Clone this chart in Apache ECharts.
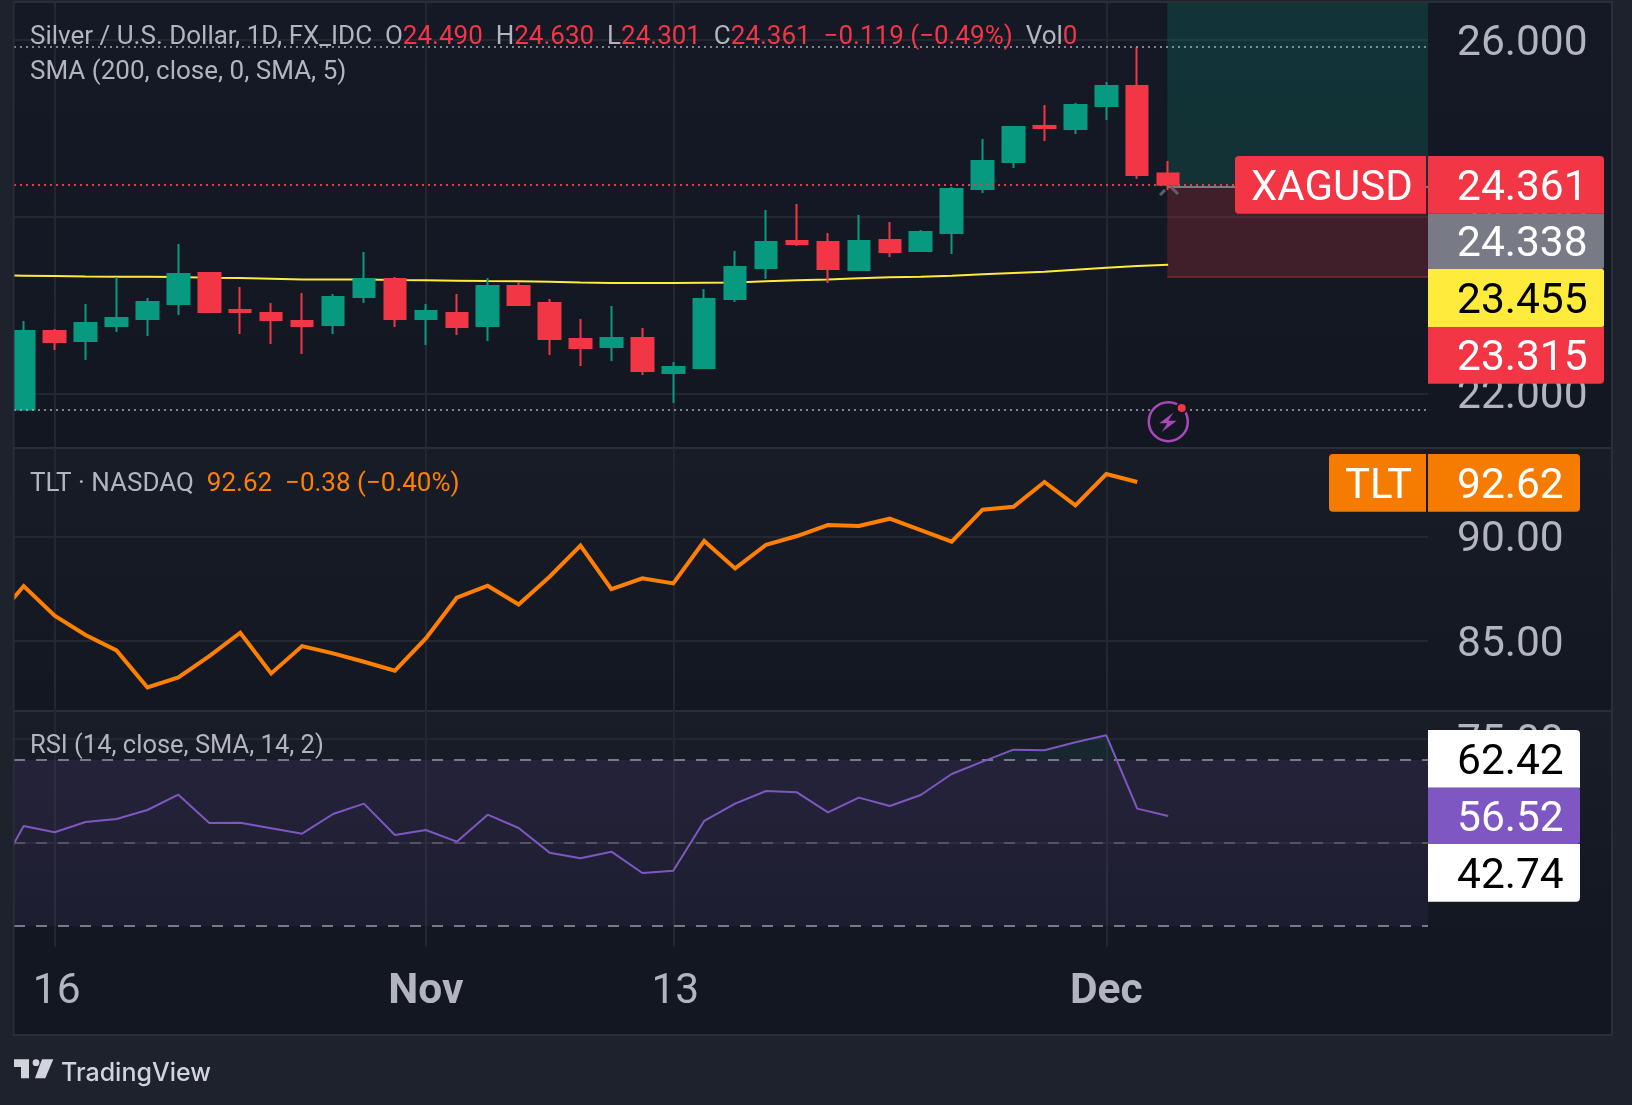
<!DOCTYPE html>
<html>
<head>
<meta charset="utf-8">
<title>XAGUSD with TLT and RSI</title>
<script src="https://cdn.jsdelivr.net/npm/echarts@6/dist/echarts.min.js"></script>
<style>
  html, body { margin: 0; padding: 0; background: #1e222d; }
  #chart { width: 1632px; height: 1105px; }
</style>
</head>
<body>
<div id="chart"></div>
<script>
// Daily XAGUSD candles, bar 0 is the first session visible at the left edge.
const opens  = [21.818,22.705,22.592,22.762,22.841,23.011,23.362,22.943,22.909,22.818,22.773,23.090,23.294,22.841,22.909,22.762,23.215,23.022,22.615,22.524,22.626,22.230,22.286,23.068,23.419,23.724,23.713,23.396,23.736,23.611,23.815,24.313,24.619,25.027,24.993,25.253,25.480,24.490];
const closes = [22.705,22.581,22.796,22.852,23.034,23.351,22.920,22.920,22.830,22.762,23.090,23.294,22.841,22.932,22.750,23.215,23.000,22.615,22.513,22.626,22.252,22.297,23.068,23.430,23.713,23.690,23.407,23.724,23.600,23.826,24.313,24.630,25.015,25.004,25.265,25.480,24.472,24.361];
const lows   = [21.818,22.490,22.377,22.694,22.649,22.886,22.920,22.671,22.558,22.445,22.671,23.022,22.750,22.547,22.660,22.592,23.000,22.433,22.309,22.365,22.207,21.890,22.286,23.034,23.294,23.668,23.249,23.396,23.543,23.611,23.577,24.268,24.551,24.857,24.936,25.095,24.427,24.301];
const highs  = [22.818,22.728,23.011,23.313,23.079,23.690,23.362,23.203,23.022,23.136,23.124,23.600,23.317,23.011,23.124,23.305,23.260,23.068,22.841,22.988,22.739,22.354,23.181,23.611,24.075,24.143,23.815,24.019,23.940,23.849,24.336,24.880,25.027,25.265,25.287,25.525,25.920,24.630];

// Overlays start one session earlier (bar -1), just off the left edge.
const sma200 = [23.336,23.332,23.328,23.324,23.321,23.321,23.317,23.309,23.305,23.298,23.290,23.290,23.290,23.283,23.279,23.275,23.271,23.268,23.264,23.256,23.249,23.249,23.249,23.253,23.256,23.268,23.279,23.290,23.302,23.313,23.321,23.332,23.347,23.362,23.377,23.400,23.422,23.441,23.455];
const tlt    = [85.879,87.636,86.214,85.288,84.553,82.780,83.259,84.281,85.399,83.450,84.760,84.409,84.010,83.578,85.128,87.077,87.652,86.757,88.083,89.569,87.492,88.003,87.764,89.792,88.482,89.617,90.032,90.559,90.511,90.863,90.319,89.760,91.294,91.438,92.620,91.502,93.000,92.620];
const rsi    = [40.8,54.096,52.570,55.060,55.783,57.952,61.647,54.819,54.900,53.534,52.249,56.988,59.478,51.928,53.133,50.321,56.827,53.614,47.671,46.305,47.912,42.771,43.333,55.301,59.478,62.530,62.209,57.390,60.924,58.916,61.566,66.627,69.598,72.490,72.329,74.257,75.944,58.273,56.52];

const priceTicks = [22, 24, 26];
const tltTicks = [85, 90];
const rsiTicks = [50, 75];
const rsiBands = [70, 50, 30];
const timeTicks = [1, 13, 21, 35];
const timeLabels = { 1: '16', 13: 'Nov', 21: '13', 35: 'Dec' };
const monthTicks = ['Nov', 'Dec'];

// Position tool: entry, stop and the last values flagged on the price scale.
const entryPrice = 24.338;
const stopPrice = 23.315;
const lastPrice = 24.361;
const smaLast = 23.455;
const tltLast = 92.62;
const tltChange = '−0.38 (−0.40%)';
const priceChange = '−0.119 (−0.49%)';
const rsiSmaLast = 62.42;
const rsiLast = 56.52;
const rsiLowFlag = 42.74;

// Panes share one horizontal scale; limits leave the first candle cut by the frame.
const xMin = -0.314, xMax = 45.4;
const plotLeft = 14, plotWidth = 1414;
const toolStart = 36.97;
const rsiPane = { top: 711, height: 236, min: 24.94, max: 81.8 };

const C = {
  outer: '#1e222d', pane: '#131722', border: '#2a2e39', grid: '#23272f',
  text: '#b2b5be', up: '#089981', down: '#f23645', orange: '#f57c00',
  line: '#ff8000', purple: '#7e57c2', yellow: '#ffeb3b', gray: '#787b86'
};
const FONT = 'Roboto, "Liberation Sans", sans-serif';
const AXIS_SIZE = 42.5;

const candleData = opens.map((o, i) => [i, o, closes[i], lows[i], highs[i]]);
const fromBarMinusOne = arr => arr.map((v, i) => [i - 1, v]);

function hLine(y, color, width, type, x0, x1) {
  return [
    { coord: [x0 === undefined ? xMin : x0, y], lineStyle: { color, width, type } },
    { coord: [x1 === undefined ? xMax : x1, y] }
  ];
}

function yAxis(gridIndex, min, max, ticks, digits) {
  return {
    type: 'value', gridIndex, position: 'right', min, max, scale: true,
    axisLine: { show: false }, axisTick: { show: false, customValues: ticks },
    splitLine: { show: true, lineStyle: { color: C.grid, width: 2 } },
    axisLabel: {
      customValues: ticks, color: C.text, fontFamily: FONT, fontSize: AXIS_SIZE,
      margin: 29, formatter: v => '{v|' + v.toFixed(digits) + '}',
      // Top padding sits the digits centred on their grid line
      rich: { v: { color: C.text, fontFamily: FONT, fontSize: AXIS_SIZE, padding: [8, 0, 0, 0] } }
    }
  };
}

function xAxis(gridIndex, showLabels) {
  return {
    type: 'value', gridIndex, min: xMin, max: xMax,
    axisLine: { show: false }, axisTick: { show: false, customValues: timeTicks },
    splitLine: { show: true, lineStyle: { color: C.grid, width: 2 } },
    axisLabel: showLabels ? {
      show: true, customValues: timeTicks, color: C.text, fontFamily: FONT,
      fontSize: AXIS_SIZE, margin: 24,
      formatter: v => {
        const t = timeLabels[v];
        return monthTicks.includes(t) ? '{b|' + t + '}' : '{n|' + t + '}';
      },
      rich: {
        b: { fontWeight: 'bold', fontSize: AXIS_SIZE, fontFamily: FONT, color: C.text },
        n: { fontSize: AXIS_SIZE, fontFamily: FONT, color: C.text, padding: [0, 0, 0, 4] }
      }
    } : { show: false }
  };
}

function flag(x0, x1, y0, y1, fill, r) {
  return { type: 'rect', z: 100, silent: true,
    shape: { x: x0, y: y0, width: x1 - x0, height: y1 - y0, r },
    style: { fill } };
}
function flagText(x, yc, text, fill, size) {
  return { type: 'text', z: 101, silent: true, x, y: yc,
    style: { text, fill, font: (size || AXIS_SIZE) + 'px ' + FONT, textVerticalAlign: 'middle', textAlign: 'left' } };
}
function paneBg(y0, y1, top, bottom) {
  return { type: 'rect', z: -5, silent: true,
    shape: { x: 14, y: y0, width: 1597, height: y1 - y0 },
    style: { fill: new echarts.graphic.LinearGradient(0, 0, 0, 1, [
      { offset: 0, color: top }, { offset: 1, color: bottom }]) } };
}
function separator(y) {
  return { type: 'rect', z: -4, silent: true,
    shape: { x: 13, y: y - 1, width: 1599, height: 2 }, style: { fill: C.border } };
}

const legendSize = 26;
function legend(x, y, text, rich, size) {
  return { type: 'text', z: 90, silent: true, x, y,
    style: { text, rich, fontFamily: FONT, fontSize: size || legendSize, fill: C.text, textVerticalAlign: 'middle' } };
}
const richPart = fill => ({ fontFamily: FONT, fontSize: legendSize, fill });

const ohlc = [['O', opens[37]], ['H', highs[37]], ['L', lows[37]], ['C', closes[37]]];
const priceLegend = '{n|Silver / U.S. Dollar, 1D, FX_IDC}' +
  ohlc.map(([k, v]) => '{n|  ' + k + '}{r|' + v.toFixed(3) + '}').join('') +
  '{r|  ' + priceChange + '}{n|  Vol}{r|0}';

const graphic = [
  { type: 'rect', z: -6, silent: true, shape: { x: 13, y: 2, width: 1599, height: 1033 },
    style: { fill: C.pane, stroke: C.border, lineWidth: 2 } },
  paneBg(3, 447, '#151925', '#131722'),
  paneBg(449, 710, '#181c27', '#131722'),
  paneBg(712, 947, '#191d28', '#131722'),
  separator(448), separator(711),

  // Marks that start off-screen are cut by the frame at the left edge
  { type: 'rect', z: 60, silent: true, shape: { x: 0, y: 0, width: 13, height: 1035 }, style: { fill: C.outer } },
  { type: 'rect', z: 61, silent: true, shape: { x: 13, y: 2, width: 1.5, height: 1033 }, style: { fill: C.border } },

  legend(30, 37.5, priceLegend, { n: richPart(C.text), r: richPart(C.down) }),
  legend(30, 72, 'SMA (200, close, 0, SMA, 5)'),
  legend(30, 484.5, '{n|TLT · NASDAQ}{o|  ' + tltLast.toFixed(2) + '  ' + tltChange + '}',
    { n: richPart(C.text), o: richPart(C.line) }),
  legend(30, 747, 'RSI (14, close, SMA, 14, 2)', undefined, 25.5),

  // Flags on the price scale
  flag(1235, 1426, 156, 213.7, C.down, [4, 0, 0, 4]),
  flag(1428, 1604, 156, 213.7, C.down, [0, 4, 0, 0]),
  flag(1428, 1604, 213.7, 269, C.gray, [0, 0, 2, 0]),
  flag(1428, 1604, 269, 327, '#ffeb3b', [0, 2, 2, 0]),
  flag(1428, 1604, 327, 383.7, C.down, [0, 0, 4, 0]),
  flagText(1251, 189.2, 'XAGUSD', '#ffffff', 42),
  flagText(1457, 189.2, lastPrice.toFixed(3), '#ffffff'),
  flagText(1457, 245.6, entryPrice.toFixed(3), '#ffffff'),
  flagText(1457, 302.3, smaLast.toFixed(3), '#000000'),
  flagText(1457, 359.7, stopPrice.toFixed(3), '#ffffff'),

  flag(1329, 1426, 454, 511.7, C.orange, [4, 0, 0, 4]),
  flag(1428, 1580, 454, 511.7, C.orange, [0, 4, 4, 0]),
  flagText(1345, 487.5, 'TLT', '#ffffff', 42),
  flagText(1457, 487.5, tltLast.toFixed(2), '#ffffff'),

  flag(1428, 1580, 730, 787.7, '#ffffff', [0, 4, 0, 0]),
  flag(1428, 1580, 787.7, 844, C.purple, [0, 2, 2, 0]),
  flag(1428, 1580, 844, 901.7, '#ffffff', [0, 0, 4, 0]),
  flagText(1457, 763.4, rsiSmaLast.toFixed(2), '#000000'),
  flagText(1457, 820.4, rsiLast.toFixed(2), '#ffffff'),
  flagText(1457, 877.4, rsiLowFlag.toFixed(2), '#000000'),

  // Chevrons under the last bar
  { type: 'polyline', z: 40, silent: true, shape: { points: [[1160, 195], [1165, 190]] },
    style: { stroke: '#5d606b', lineWidth: 3, fill: null } },
  { type: 'polyline', z: 40, silent: true, shape: { points: [[1171, 187], [1178, 194]] },
    style: { stroke: '#5d606b', lineWidth: 3, fill: null } },

  // Earnings-style event badge
  { type: 'circle', z: 40, silent: true, shape: { cx: 1168.3, cy: 421.7, r: 19.5 },
    style: { fill: C.pane, stroke: '#ab47bc', lineWidth: 2.5 } },
  { type: 'polygon', z: 41, silent: true,
    shape: { points: [[1173.3, 412.7], [1159.3, 423.3], [1167.3, 423.3], [1161.7, 432], [1176.7, 420.7], [1168.3, 420.7]] },
    style: { fill: '#ab47bc' } },
  { type: 'circle', z: 42, silent: true, shape: { cx: 1181.7, cy: 408, r: 5 },
    style: { fill: C.down, stroke: C.pane, lineWidth: 2 } },

  // Footer logo and wordmark
  { type: 'polygon', z: 50, silent: true,
    shape: { points: [[14, 1059.3], [29, 1059.3], [29, 1078.3], [21, 1078.3], [21, 1067], [14, 1067]] },
    style: { fill: '#d1d4dc' } },
  { type: 'circle', z: 50, silent: true, shape: { cx: 36, cy: 1062.7, r: 3.4 }, style: { fill: '#d1d4dc' } },
  { type: 'polygon', z: 50, silent: true,
    shape: { points: [[42, 1059.3], [53.3, 1059.3], [45.3, 1078.3], [35, 1078.3]] },
    style: { fill: '#d1d4dc' } },
  { type: 'text', z: 50, silent: true, x: 61, y: 1073,
    style: { text: 'TradingView', fill: '#d1d4dc', font: '500 25px Inter, ' + FONT, textVerticalAlign: 'middle' } }
];

// Fill only the part of the RSI curve above the upper band: hard stop at that level.
const bandStop = (rsiPane.max - rsiBands[0]) / (rsiPane.max - rsiPane.min);
const overboughtFill = {
  type: 'linear', global: true, x: 0, y: rsiPane.top, x2: 0, y2: rsiPane.top + rsiPane.height,
  colorStops: [
    { offset: 0, color: 'rgba(8,153,129,0.09)' },
    { offset: bandStop, color: 'rgba(8,153,129,0.09)' },
    { offset: bandStop, color: 'rgba(8,153,129,0)' },
    { offset: 1, color: 'rgba(8,153,129,0)' }
  ]
};

const option = {
  animation: false,
  backgroundColor: C.outer,
  graphic,
  grid: [
    { left: plotLeft, width: plotWidth, top: 3, height: 444 },
    { left: plotLeft, width: plotWidth, top: 448, height: 263 },
    { left: plotLeft, width: plotWidth, top: rsiPane.top, height: rsiPane.height }
  ],
  xAxis: [xAxis(0, false), xAxis(1, false), xAxis(2, true)],
  yAxis: [
    yAxis(0, 21.392, 26.42, priceTicks, 3),
    yAxis(1, 81.65, 94.25, tltTicks, 2),
    yAxis(2, rsiPane.min, rsiPane.max, rsiTicks, 2)
  ],
  series: [
    {
      name: 'Position tool', type: 'line', xAxisIndex: 0, yAxisIndex: 0, z: 1,
      data: [], symbol: 'none', silent: true,
      markArea: {
        silent: true, z: 1,
        data: [
          [{ coord: [toolStart, entryPrice], itemStyle: { color: 'rgba(8,153,129,0.2)' } }, { coord: [xMax, 26.42] }],
          [{ coord: [toolStart, stopPrice], itemStyle: { color: 'rgba(242,54,69,0.2)' } }, { coord: [xMax, entryPrice] }]
        ]
      },
      markLine: {
        silent: true, symbol: 'none', label: { show: false }, z: 2,
        data: [
          hLine(stopPrice, 'rgba(242,54,69,0.3)', 2, 'solid', toolStart),
          hLine(entryPrice, C.gray, 2, 'solid', toolStart)
        ]
      }
    },
    {
      name: 'SMA 200', type: 'line', xAxisIndex: 0, yAxisIndex: 0, z: 2,
      data: fromBarMinusOne(sma200), symbol: 'none', silent: true,
      lineStyle: { color: C.yellow, width: 2 }
    },
    {
      name: 'XAGUSD', type: 'candlestick', xAxisIndex: 0, yAxisIndex: 0, z: 3,
      data: candleData, barWidth: 22, silent: true, clip: true,
      itemStyle: {
        color: C.up, color0: C.down, borderColor: C.up, borderColor0: C.down,
        borderColorDoji: C.down, borderWidth: 2
      },
      markLine: {
        silent: true, symbol: 'none', label: { show: false }, z: 4,
        data: [
          hLine(Math.max(...highs), 'rgba(178,181,190,0.7)', 2, [2, 4]),
          hLine(lastPrice, C.down, 2, [2, 4]),
          hLine(Math.min(...lows), 'rgba(178,181,190,0.7)', 2, [2, 4])
        ]
      }
    },
    {
      name: 'TLT', type: 'line', xAxisIndex: 1, yAxisIndex: 1, z: 3,
      data: fromBarMinusOne(tlt), symbol: 'none', silent: true,
      lineStyle: { color: C.line, width: 4, join: 'miter' }
    },
    {
      name: 'RSI band', type: 'line', xAxisIndex: 2, yAxisIndex: 2, z: 1,
      data: [], symbol: 'none', silent: true,
      markArea: {
        silent: true, z: 1,
        data: [[{
          coord: [xMin, rsiBands[0]],
          itemStyle: { color: new echarts.graphic.LinearGradient(0, 0, 0, 1, [
            { offset: 0, color: 'rgba(126,87,194,0.12)' }, { offset: 1, color: 'rgba(126,87,194,0.09)' }]) }
        }, { coord: [xMax, rsiBands[2]] }]]
      },
      markLine: {
        silent: true, symbol: 'none', label: { show: false }, z: 2,
        data: [
          hLine(rsiBands[0], C.gray, 2, [11, 11]),
          hLine(rsiBands[1], 'rgba(120,123,134,0.5)', 2, [11, 11]),
          hLine(rsiBands[2], C.gray, 2, [11, 11])
        ]
      }
    },
    {
      name: 'RSI overbought fill', type: 'line', xAxisIndex: 2, yAxisIndex: 2, z: 2,
      data: fromBarMinusOne(rsi), symbol: 'none', silent: true,
      lineStyle: { width: 0 }, areaStyle: { origin: rsiBands[0], color: overboughtFill, opacity: 1 }
    },
    {
      name: 'RSI', type: 'line', xAxisIndex: 2, yAxisIndex: 2, z: 3,
      data: fromBarMinusOne(rsi), symbol: 'none', silent: true,
      lineStyle: { color: C.purple, width: 2 }
    }
  ]
};

const chart = echarts.init(document.getElementById('chart'), null, { renderer: 'canvas' });
chart.setOption(option);
</script>
</body>
</html>
